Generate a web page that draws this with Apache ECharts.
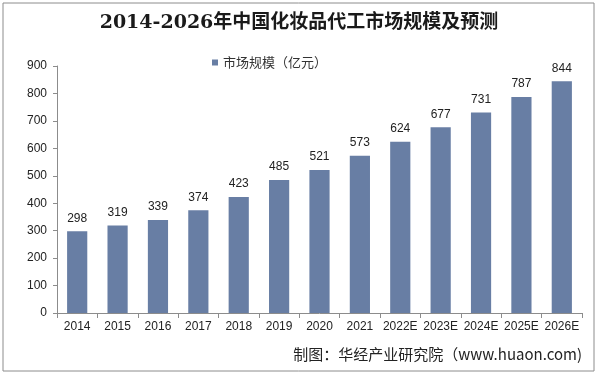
<!DOCTYPE html>
<html>
<head>
<meta charset="utf-8">
<script src="https://cdn.jsdelivr.net/npm/echarts@6/dist/echarts.min.js"></script>
<style>
  html, body { margin: 0; padding: 0; background: #fff; }
  #chart { width: 598px; height: 376px; }
</style>
</head>
<body>
<div id="chart"></div>
<script>
// 年份 / 市场规模（亿元）
let years = ['2014', '2015', '2016', '2017', '2018', '2019', '2020', '2021',
    '2022E', '2023E', '2024E', '2025E', '2026E'];
let scale = [298, 319, 339, 374, 423, 485, 521, 573, 624, 677, 731, 787, 844];
let yTicks = [0, 900, 100];

(function () {
    let chart = echarts.init(document.getElementById('chart'));

    let option = {
        backgroundColor: '#fff',
        graphic: [{
            type: 'rect',
            shape: { x: 3, y: 3, width: 591, height: 368 },
            style: { fill: 'none', stroke: '#8c8c8c', lineWidth: 1 }
        }, {
            type: 'text',
            right: 16,
            top: 347,
            style: {
                text: '制图：华经产业研究院（www.huaon.com)',
                fill: '#222',
                font: '15px "Noto Sans CJK SC", sans-serif'
            }
        }],
        title: {
            text: '2014-2026年中国化妆品代工市场规模及预测',
            left: 'center',
            top: 9,
            textStyle: {
                color: '#1a1a1a',
                fontSize: 19,
                fontWeight: 'bold',
                fontFamily: '"DejaVu Serif", "Noto Sans CJK SC", serif'
            }
        },
        legend: {
            data: ['市场规模（亿元）'],
            top: 51,
            left: 207,
            icon: 'rect',
            itemWidth: 6,
            itemHeight: 6,
            itemGap: 3,
            textStyle: {
                color: '#333',
                fontSize: 13,
                fontFamily: '"Noto Sans CJK SC", sans-serif'
            }
        },
        grid: {
            left: 57,
            right: 16,
            top: 66,
            bottom: 63
        },
        xAxis: {
            type: 'category',
            data: years,
            axisLine: { lineStyle: { color: '#8c8c8c' } },
            axisTick: { show: true, lineStyle: { color: '#8c8c8c' } },
            axisLabel: {
                color: '#222',
                fontSize: 12,
                margin: 8,
                interval: 0,
                fontFamily: '"Liberation Sans", Arial, sans-serif'
            }
        },
        yAxis: {
            type: 'value',
            min: yTicks[0],
            max: yTicks[1],
            interval: yTicks[2],
            axisLine: { show: true, lineStyle: { color: '#8c8c8c' } },
            axisTick: { show: true, length: 4, lineStyle: { color: '#8c8c8c' } },
            splitLine: { show: false },
            axisLabel: {
                color: '#222',
                fontSize: 12,
                margin: 10,
                fontFamily: '"Liberation Sans", Arial, sans-serif'
            }
        },
        series: [{
            name: '市场规模（亿元）',
            type: 'bar',
            data: scale,
            barWidth: '50%',
            itemStyle: { color: '#687ea4' },
            label: {
                show: true,
                position: 'top',
                distance: 7,
                color: '#222',
                fontSize: 12,
                fontFamily: '"Liberation Sans", Arial, sans-serif'
            }
        }]
    };

    chart.setOption(option);
})();
</script>
</body>
</html>
